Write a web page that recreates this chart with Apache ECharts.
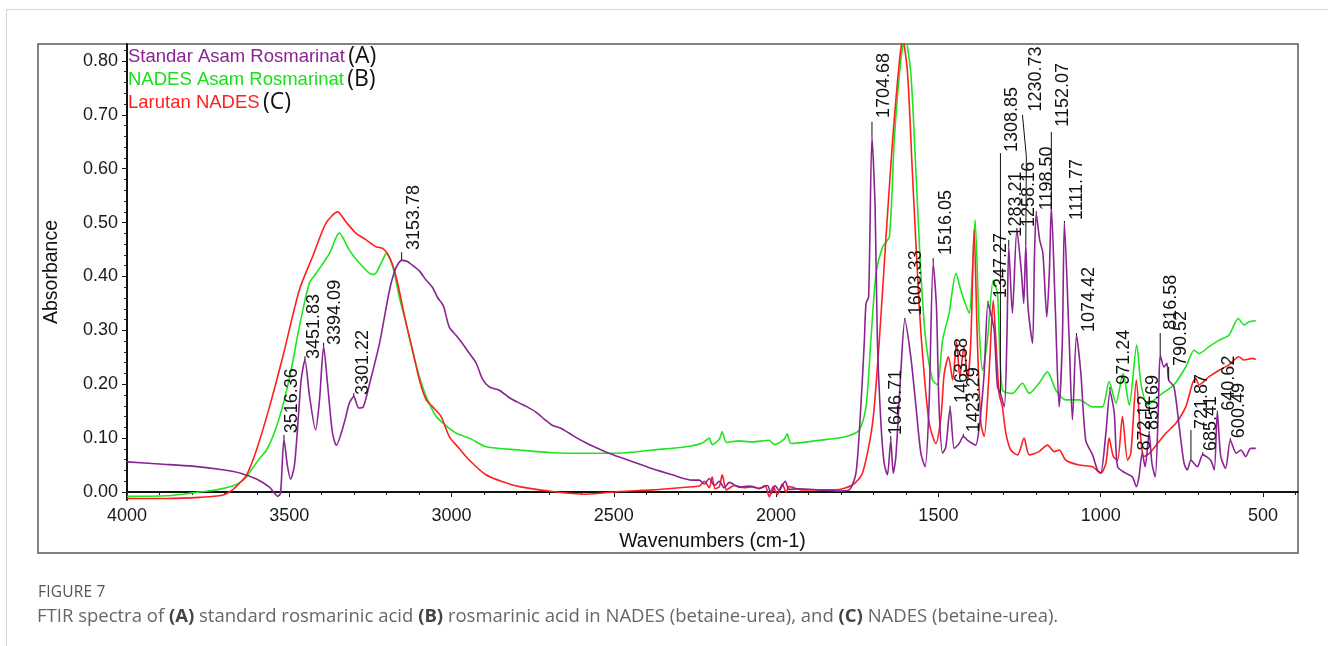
<!DOCTYPE html>
<html>
<head>
<meta charset="utf-8">
<title>FTIR spectra</title>
<script src="https://cdn.jsdelivr.net/npm/echarts@6/dist/echarts.min.js"></script>
<style>
  html, body { margin: 0; padding: 0; background: #ffffff; }
  #page { position: relative; width: 1328px; height: 646px; overflow: hidden; }
  #card { position: absolute; left: 6px; top: 9px; width: 1400px; height: 700px;
          border-left: 1px solid #d4d4d4; border-top: 1px solid #d4d4d4; }
  #chart { position: absolute; left: 0; top: 0; width: 1328px; height: 646px; }
  #caption { position: absolute; left: 38px; top: 580px; font-family: "Open Sans", sans-serif; }
  #caption .fig { font-size: 15.5px; color: #555; line-height: 22px; letter-spacing: 0.2px; }
  #caption .txt { font-size: 18.5px; color: #666; line-height: 26px; margin-left: -1px; }
  #caption b { color: #444; }
</style>
</head>
<body>
<div id="page">
  <div id="card"></div>
  <div id="chart"></div>
  <div id="caption">
    <div class="fig">FIGURE 7</div>
    <div class="txt">FTIR spectra of <b>(A)</b> standard rosmarinic acid <b>(B)</b> rosmarinic acid in NADES (betaine-urea), and <b>(C)</b> NADES (betaine-urea).</div>
  </div>
</div>
<script>
// Axis ticks
const wavenumberTicks = [4000, 3500, 3000, 2500, 2000, 1500, 1000, 500];
const absorbanceTicks = [0, 0.1, 0.2, 0.3, 0.4, 0.5, 0.6, 0.7, 0.8];

// Series names and their tags
const seriesNames = ['Standar Asam Rosmarinat', 'NADES Asam Rosmarinat', 'Larutan NADES'];
const seriesTags = ['(A)', '(B)', '(C)'];

// (A) Standard rosmarinic acid: [wavenumber cm-1, absorbance]
const standarRA = [
  [4000,0.056],[3900,0.052],[3798,0.048],[3700,0.041],[3650,0.035],[3601,0.024],[3561,0.009],
  [3546,-0.002],[3536,-0.008],[3527,-0.002],[3516.36,0.098],[3506,0.05],[3496,0.024],[3484,0.05],
  [3472,0.14],[3463,0.21],[3451.83,0.245],[3438,0.18],[3419,0.115],[3407,0.17],[3394.09,0.27],
  [3382,0.2],[3367,0.11],[3355,0.087],[3330,0.13],[3315,0.165],[3301.22,0.177],[3286,0.156],
  [3272,0.158],[3253,0.2],[3222,0.276],[3191,0.375],[3172,0.415],[3153.78,0.43],[3136,0.428],
  [3121,0.421],[3099,0.41],[3078,0.393],[3059,0.38],[3044,0.362],[3025,0.345],[3007,0.306],
  [2985,0.29],[2967,0.276],[2946,0.258],[2924,0.239],[2905,0.21],[2884,0.195],[2853,0.189],
  [2822,0.175],[2791,0.165],[2767,0.158],[2739,0.148],[2714,0.135],[2690,0.124],[2662,0.118],
  [2637,0.109],[2613,0.1],[2585,0.091],[2554,0.082],[2523,0.074],[2483,0.065],[2431,0.054],
  [2381,0.043],[2320,0.032],[2258,0.022],[2237,0.022],[2221,0.015],[2206,0.025],[2190,0.012],
  [2175,0.02],[2160,0.008],[2144,0.018],[2114,0.009],[2083,0.011],[2052,0.007],[2027,0.012],
  [2015,-0.003],[2003,0.012],[1991,0.003],[1972,0.02],[1960,0.005],[1929,0.006],[1867,0.004],
  [1806,0.002],[1775,0.004],[1754,0.035],[1739,0.158],[1728,0.282],[1723,0.35],[1715,0.362],
  [1704.68,0.659],[1695,0.529],[1688,0.282],[1677,0.127],[1667,0.053],[1657,0.032],[1646.71,0.096],
  [1639,0.035],[1631,0.066],[1616,0.22],[1603.33,0.319],[1585,0.251],[1569,0.158],[1554,0.072],
  [1541,0.047],[1529,0.158],[1516.05,0.424],[1506,0.344],[1498,0.158],[1487,0.072],[1477,0.084],
  [1463.88,0.155],[1451,0.081],[1436,0.09],[1423.29,0.103],[1410,0.096],[1395,0.09],[1385,0.087],
  [1374,0.121],[1359,0.22],[1347.27,0.35],[1338,0.33],[1328,0.3],[1318,0.195],[1308.85,0.183],
  [1297,0.158],[1289,0.282],[1283.21,0.455],[1272,0.332],[1258.16,0.486],[1244,0.406],[1237,0.35],
  [1230.73,0.458],[1224,0.344],[1210,0.276],[1204,0.437],[1198.5,0.517],[1188,0.468],[1178,0.443],
  [1166,0.325],[1158,0.41],[1152.07,0.529],[1140,0.344],[1128,0.158],[1118,0.282],[1111.77,0.499],
  [1097,0.282],[1087,0.134],[1074.42,0.291],[1061,0.22],[1046,0.096],[1025,0.069],[1010,0.041],
  [1000,0.035],[984,0.109],[971.24,0.186],[958,0.146],[948,0.047],[923,0.035],[902,0.028],
  [890,0.01],[882,0.028],[872.12,0.072],[863,0.047],[850.69,0.109],[842,0.053],[832,0.028],
  [822,0.16],[816.58,0.254],[805,0.232],[796,0.239],[790.52,0.208],[774,0.195],[758,0.121],
  [743,0.053],[733,0.041],[721.87,0.059],[702,0.047],[685.41,0.069],[661,0.059],[650,0.041],
  [640.62,0.149],[630,0.066],[615,0.044],[600.49,0.096],[582,0.072],[568,0.078],[553,0.066],
  [538,0.081],[522,0.081]
];

// (B) Rosmarinic acid in NADES
const nadesRA = [
  [4000,-0.008],[3878,-0.007],[3829,-0.004],[3777,0.0],[3724,0.004],[3675,0.011],[3654,0.017],
  [3632,0.028],[3617,0.041],[3592,0.062],[3570,0.078],[3546,0.11],[3521,0.158],[3493,0.23],
  [3469,0.307],[3438,0.388],[3417,0.406],[3376,0.443],[3346,0.481],[3315,0.449],[3284,0.425],
  [3253,0.406],[3238,0.404],[3213,0.43],[3201,0.443],[3181,0.418],[3161,0.362],[3140,0.313],
  [3121,0.263],[3099,0.214],[3078,0.177],[3047,0.14],[3007,0.118],[2982,0.108],[2945,0.1],
  [2893,0.084],[2791,0.078],[2689,0.073],[2585,0.072],[2483,0.072],[2381,0.078],[2277,0.084],
  [2227,0.091],[2206,0.1],[2197,0.088],[2175,0.098],[2166,0.112],[2153,0.092],[2114,0.095],
  [2074,0.093],[2021,0.096],[2006,0.088],[1975,0.098],[1966,0.108],[1954,0.09],[1867,0.096],
  [1784,0.103],[1744,0.115],[1723,0.158],[1708,0.282],[1692,0.406],[1672,0.455],[1651,0.474],
  [1636,0.653],[1616,0.8],[1603,0.845],[1585,0.777],[1569,0.591],[1554,0.406],[1539,0.282],
  [1518,0.208],[1503,0.199],[1487,0.282],[1467,0.332],[1446,0.406],[1431,0.375],[1421,0.356],
  [1405,0.332],[1396,0.4],[1387,0.505],[1374,0.3],[1364,0.226],[1349,0.282],[1331,0.393],
  [1318,0.369],[1303,0.189],[1272,0.183],[1241,0.202],[1220,0.183],[1190,0.202],[1164,0.223],
  [1138,0.189],[1107,0.171],[1066,0.171],[1025,0.158],[995,0.158],[974,0.205],[953,0.165],
  [931,0.22],[912,0.161],[889,0.273],[876,0.202],[856,0.161],[835,0.171],[810,0.183],[774,0.199],
  [738,0.232],[712,0.263],[697,0.257],[666,0.27],[635,0.282],[605,0.291],[576,0.322],[558,0.31],
  [543,0.316],[522,0.318]
];

// (C) NADES solution
const larutanNADES = [
  [4000,-0.012],[3878,-0.012],[3777,-0.01],[3706,-0.006],[3675,0.004],[3654,0.016],[3632,0.031],
  [3601,0.078],[3561,0.158],[3520,0.251],[3469,0.375],[3428,0.437],[3387,0.499],[3351,0.52],
  [3325,0.501],[3294,0.48],[3263,0.468],[3232,0.455],[3212,0.452],[3192,0.437],[3171,0.4],
  [3140,0.313],[3120,0.263],[3099,0.208],[3078,0.171],[3058,0.158],[3032,0.14],[3007,0.103],
  [2981,0.084],[2945,0.059],[2894,0.032],[2843,0.019],[2791,0.01],[2689,0.001],[2586,-0.004],
  [2483,0.001],[2381,0.004],[2278,0.009],[2237,0.011],[2221,0.02],[2206,0.008],[2197,0.028],
  [2188,0.006],[2175,0.01],[2166,0.032],[2153,0.004],[2129,0.012],[2098,0.008],[2073,0.01],
  [2052,0.006],[2034,0.012],[2021,-0.009],[2009,0.01],[1996,-0.005],[1981,0.015],[1969,0.0],
  [1960,0.01],[1919,0.004],[1816,0.004],[1765,0.013],[1734,0.035],[1703,0.127],[1682,0.282],
  [1662,0.468],[1641,0.653],[1620,0.8],[1610,0.84],[1595,0.777],[1580,0.591],[1559,0.344],
  [1544,0.22],[1528,0.127],[1508,0.09],[1492,0.14],[1482,0.22],[1469,0.251],[1456,0.208],
  [1444,0.279],[1434,0.214],[1421,0.27],[1410,0.208],[1400,0.282],[1390,0.486],[1380,0.282],
  [1369,0.127],[1359,0.103],[1344,0.22],[1331,0.356],[1323,0.282],[1313,0.183],[1303,0.158],
  [1292,0.109],[1277,0.078],[1256,0.069],[1236,0.1],[1220,0.069],[1190,0.075],[1164,0.087],
  [1143,0.075],[1128,0.078],[1107,0.059],[1066,0.05],[1025,0.047],[1000,0.035],[984,0.053],
  [974,0.1],[961,0.066],[948,0.059],[933,0.14],[917,0.059],[907,0.072],[890,0.208],[876,0.096],
  [866,0.066],[850,0.072],[825,0.09],[799,0.109],[769,0.127],[738,0.158],[717,0.202],[707,0.211],
  [697,0.199],[666,0.214],[635,0.226],[605,0.236],[574,0.251],[558,0.245],[533,0.248],[522,0.246]
];

// Peak annotations on spectrum (A): peak wavenumber, leader top (absorbance),
// text column centre (wavenumber) and text start (absorbance); optional bend point.
const peakLabels = [
  { wn: 3516.36, top: 0.106, textWn: 3490, base: 0.109 },
  { wn: 3451.83, top: 0.252, textWn: 3423, base: 0.247 },
  { wn: 3394.09, top: 0.277, textWn: 3358, base: 0.273 },
  { wn: 3301.22, top: 0.184, textWn: 3274, base: 0.180 },
  { wn: 3153.78, top: 0.445, textWn: 3115, base: 0.449 },
  { wn: 1704.68, top: 0.687, textWn: 1667, base: 0.694 },
  { wn: 1646.71, top: 0.104, textWn: 1630, base: 0.106 },
  { wn: 1603.33, top: 0.323, textWn: 1569, base: 0.328 },
  { wn: 1516.05, top: 0.434, textWn: 1476, base: 0.440 },
  { wn: 1463.88, top: 0.160, textWn: 1428, base: 0.165 },
  { wn: 1423.29, top: 0.108, textWn: 1390, base: 0.111 },
  { wn: 1347.27, top: 0.355, textWn: 1307, base: 0.360 },
  { wn: 1308.85, top: 0.629, textWn: 1273, base: 0.631 },
  { wn: 1283.21, top: 0.468, textWn: 1261, base: 0.474 },
  { wn: 1258.16, top: 0.490, textWn: 1220, base: 0.492 },
  { wn: 1230.73, top: 0.700, topWn: 1241, bendWn: 1229, bend: 0.623, textWn: 1200, base: 0.706 },
  { wn: 1198.50, top: 0.521, textWn: 1165, base: 0.523 },
  { wn: 1152.07, top: 0.668, textWn: 1116, base: 0.678 },
  { wn: 1111.77, top: 0.503, textWn: 1073, base: 0.505 },
  { wn: 1074.42, top: 0.295, textWn: 1035, base: 0.297 },
  { wn: 971.24, top: 0.195, textWn: 928, base: 0.199 },
  { wn: 872.12, top: 0.075, textWn: 864, base: 0.077 },
  { wn: 850.69, top: 0.113, textWn: 840, base: 0.115 },
  { wn: 816.58, top: 0.295, textWn: 784, base: 0.301 },
  { wn: 790.52, top: 0.232, textWn: 753, base: 0.234 },
  { wn: 721.87, top: 0.115, textWn: 687, base: 0.117 },
  { wn: 685.41, top: 0.074, textWn: 661, base: 0.076 },
  { wn: 640.62, top: 0.151, textWn: 604, base: 0.151 },
  { wn: 600.49, top: 0.100, textWn: 574, base: 0.100 }
];

const colors = ['#8b2393', '#1ee61e', '#ff1f1f'];
const sans = '"Liberation Sans", Arial, sans-serif';

// Absorbance of spectrum (A) at a labelled peak
function peakAbsorbance(wn) {
  const hit = standarRA.find(p => Math.abs(p[0] - wn) < 1e-6);
  return hit ? hit[1] : 0;
}

const labelData = peakLabels.map(p => {
  const a = peakAbsorbance(p.wn);
  const topWn = p.topWn !== undefined ? p.topWn : p.wn;
  const bendWn = p.bendWn !== undefined ? p.bendWn : topWn;
  const bend = p.bend !== undefined ? p.bend : p.top;
  return [p.wn, a, bendWn, bend, topWn, p.top, p.textWn, p.base];
});

function minorSteps(from, to, step) {
  const out = [];
  for (let v = from; v <= to + 1e-9; v += step) out.push(+v.toFixed(4));
  return out;
}

const X_MIN = 392, X_MAX = 4000;
const Y_MIN = -0.0148, Y_MAX = 0.8315;

const chart = echarts.init(document.getElementById('chart'));

chart.setOption({
  animation: false,
  backgroundColor: 'transparent',
  grid: { left: 127, top: 44, right: 30, bottom: 146, containLabel: false },
  graphic: [{
    type: 'rect', silent: true, z: -10,
    shape: { x: 38, y: 44, width: 1260, height: 509 },
    style: { fill: 'none', stroke: '#5a5a5a', lineWidth: 1.5 }
  }],
  legend: {
    orient: 'vertical', left: 123, top: 45, padding: 0, itemGap: 0,
    itemWidth: 0, itemHeight: 22, icon: 'none', selectedMode: false,
    data: seriesNames,
    formatter: name => {
      const i = seriesNames.indexOf(name);
      return '{s' + i + '|' + name + '} {tag|' + seriesTags[i] + '}';
    },
    textStyle: {
      rich: {
        s0: { color: colors[0], fontSize: 18.5, fontFamily: sans, height: 22.5, lineHeight: 22.5 },
        s1: { color: '#19e019', fontSize: 18.5, fontFamily: sans, height: 22.5, lineHeight: 22.5 },
        s2: { color: colors[2], fontSize: 18.5, fontFamily: sans, height: 22.5, lineHeight: 22.5 },
        tag: { color: '#111', fontSize: 23, fontFamily: '"Open Sans", sans-serif', height: 22.5, lineHeight: 22.5 }
      }
    }
  },
  xAxis: [{
    type: 'value', inverse: true, min: X_MIN, max: X_MAX,
    name: 'Wavenumbers (cm-1)', nameLocation: 'middle', nameGap: 32,
    nameTextStyle: { color: '#111', fontSize: 19.5, fontFamily: sans },
    splitLine: { show: false },
    axisLine: { lineStyle: { color: '#111', width: 2 } },
    axisTick: { customValues: wavenumberTicks, length: 5, lineStyle: { color: '#111', width: 1 } },
    axisLabel: { customValues: wavenumberTicks, margin: 7, color: '#1a1a1a', fontSize: 18, fontFamily: sans,
                 formatter: v => String(v) }
  }, {
    type: 'value', inverse: true, min: X_MIN, max: X_MAX, position: 'bottom',
    splitLine: { show: false }, axisLine: { show: false },
    axisTick: { customValues: minorSteps(400, 4000, 100), length: 3, lineStyle: { color: '#222', width: 1 } },
    axisLabel: { show: false }
  }],
  yAxis: [{
    type: 'value', min: Y_MIN, max: Y_MAX,
    name: 'Absorbance', nameLocation: 'middle', nameGap: 65, nameRotate: 90,
    nameTextStyle: { color: '#111', fontSize: 19.5, fontFamily: sans },
    splitLine: { show: false },
    axisLine: { lineStyle: { color: '#111', width: 2 } },
    axisTick: { customValues: absorbanceTicks, length: 5, lineStyle: { color: '#111', width: 1 } },
    axisLabel: { customValues: absorbanceTicks, margin: 9, color: '#1a1a1a', fontSize: 18, fontFamily: sans,
                 formatter: v => v.toFixed(2) }
  }, {
    type: 'value', min: Y_MIN, max: Y_MAX, position: 'left',
    splitLine: { show: false }, axisLine: { show: false },
    axisTick: { customValues: minorSteps(0, 0.82, 0.02), length: 3, lineStyle: { color: '#222', width: 1 } },
    axisLabel: { show: false }
  }],
  series: [
    {
      name: seriesNames[1], type: 'line', data: nadesRA, showSymbol: false, smooth: 0.25,
      lineStyle: { color: colors[1], width: 1.6 }, itemStyle: { color: colors[1] }, z: 2
    },
    {
      name: seriesNames[2], type: 'line', data: larutanNADES, showSymbol: false, smooth: 0.25,
      lineStyle: { color: colors[2], width: 1.6 }, itemStyle: { color: colors[2] }, z: 3
    },
    {
      name: seriesNames[0], type: 'line', data: standarRA, showSymbol: false, smooth: 0.25,
      lineStyle: { color: colors[0], width: 1.6 }, itemStyle: { color: colors[0] }, z: 4
    },
    {
      type: 'custom', silent: true, z: 5, data: labelData,
      renderItem: (params, api) => {
        const wn = api.value(0);
        const peak = api.coord([wn, api.value(1)]);
        const bend = api.coord([api.value(2), api.value(3)]);
        const top = api.coord([api.value(4), api.value(5)]);
        const txt = api.coord([api.value(6), api.value(7)]);
        return {
          type: 'group',
          children: [
            { type: 'polyline', shape: { points: [peak, bend, top] },
              style: { stroke: '#111', lineWidth: 1, fill: 'none' } },
            { type: 'text', x: txt[0], y: txt[1], rotation: Math.PI / 2,
              style: { text: wn.toFixed(2), fill: '#111', fontSize: 18, fontFamily: sans,
                       align: 'left', verticalAlign: 'middle',
                       textAlign: 'left', textVerticalAlign: 'middle' } }
          ]
        };
      }
    }
  ]
});
</script>
</body>
</html>
